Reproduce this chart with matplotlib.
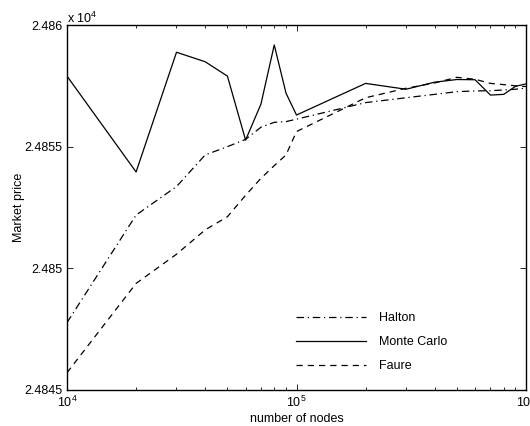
import matplotlib
matplotlib.use("Agg")
import matplotlib.pyplot as plt
from matplotlib.ticker import FuncFormatter, NullFormatter, LogLocator, FixedLocator

plt.rcParams['font.family'] = ['Liberation Sans', 'DejaVu Sans']
plt.rcParams['font.size'] = 9

# number of nodes
nodes = [1e4, 2e4, 3e4, 4e4, 5e4, 6e4, 7e4, 8e4, 9e4,
         1e5, 2e5, 3e5, 4e5, 5e5, 6e5, 7e5, 8e5, 9e5, 1e6]

# market price estimates
halton = [24847.77, 24852.19, 24853.36, 24854.66, 24855.00, 24855.30, 24855.80,
          24856.00, 24856.03, 24856.13, 24856.81, 24857.01, 24857.15, 24857.26,
          24857.29, 24857.30, 24857.33, 24857.36, 24857.41]
monte_carlo = [24857.90, 24853.96, 24858.88, 24858.49, 24857.90, 24855.27, 24856.75,
               24859.18, 24857.20, 24856.30, 24857.60, 24857.36, 24857.65, 24857.76,
               24857.75, 24857.12, 24857.15, 24857.48, 24857.58]
faure = [24845.71, 24849.38, 24850.58, 24851.58, 24852.12, 24853.00, 24853.70,
         24854.22, 24854.66, 24855.62, 24857.01, 24857.40, 24857.62, 24857.85,
         24857.77, 24857.60, 24857.55, 24857.50, 24857.47]

y_ticks = [24845, 24850, 24855, 24860]

fig = plt.figure(figsize=(5.3, 4.26), dpi=100)
ax = fig.add_axes([67 / 530, 36 / 426, 459 / 530, 365 / 426])

lw = 0.9
ax.plot(nodes, halton, color='black', lw=lw, dashes=(6, 3, 1, 3), label='Halton')
ax.plot(nodes, monte_carlo, color='black', lw=lw, linestyle='-', label='Monte Carlo')
ax.plot(nodes, faure, color='black', lw=lw, dashes=(5, 4), label='Faure')

ax.set_xscale('log')
ax.set_xlim(1e4, 1e6)
ax.set_ylim(24845, 24860)

ax.yaxis.set_major_locator(FixedLocator(y_ticks))
ax.yaxis.set_major_formatter(FuncFormatter(lambda v, p: '%g' % (v / 1e4)))
ax.xaxis.set_major_locator(LogLocator(base=10))
ax.xaxis.set_minor_locator(LogLocator(base=10, subs=range(2, 10)))
ax.xaxis.set_minor_formatter(NullFormatter())

ax.tick_params(which='both', direction='in', top=True, right=True, labelsize=9)
ax.tick_params(which='major', length=4.5, width=0.6)
ax.tick_params(which='minor', length=2.5, width=0.6)
for s in ax.spines.values():
    s.set_linewidth(1.0)

ax.text(0, 0.997, r'x 10$^{\mathdefault{4}}$', transform=ax.transAxes,
        ha='left', va='bottom', fontsize=9)

ax.set_xlabel('number of nodes', labelpad=2)
ax.set_ylabel('Market price', labelpad=-1)

ax.legend(loc='center left', bbox_to_anchor=(0.486, 0.1315), frameon=False,
          borderpad=0, handlelength=5.6, handletextpad=1.0, labelspacing=0.95,
          fontsize=9)

fig.savefig('out.png', dpi=100)
